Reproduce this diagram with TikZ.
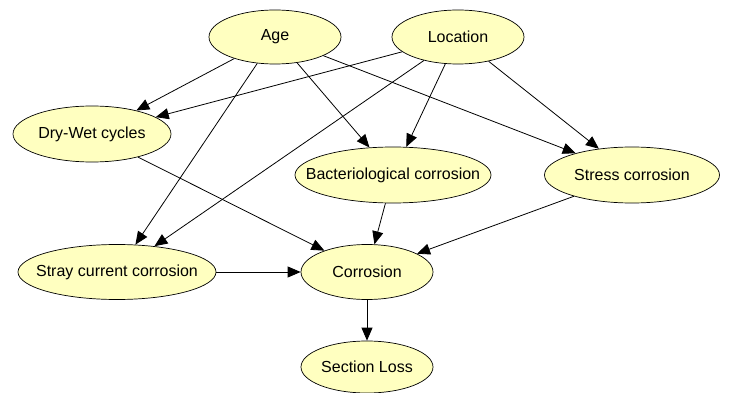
\documentclass[tikz,border=0pt]{standalone}
\usepackage{fontspec}
\setmainfont{Liberation Sans}
\usetikzlibrary{shapes.geometric,arrows.meta}
\definecolor{nodefill}{RGB}{255,255,192}
\newcommand{\nlab}[1]{\makebox[0pt]{#1}}
\tikzset{
  bnode/.style={ellipse, draw=black, line width=0.7pt, fill=nodefill, inner sep=0pt,
    font=\fontsize{16pt}{18pt}\selectfont},
  edge/.style={draw=black, line width=0.8pt, -{Triangle[length=13pt,width=11pt]}}
}
\begin{document}
\begin{tikzpicture}[x=1pt,y=-1pt]
\useasboundingbox (0,0) rectangle (731,393);
\node[bnode, minimum width=132pt, minimum height=54pt] (age) at (275,37) {\nlab{Age}};
\node[bnode, minimum width=132pt, minimum height=54pt] (loc) at (458,37) {\nlab{Location}};
\node[bnode, minimum width=158pt, minimum height=56pt] (dry) at (92,134) {\nlab{Dry-Wet cycles}};
\node[bnode, minimum width=196pt, minimum height=56pt] (bac) at (393,175) {\nlab{Bacteriological corrosion}};
\node[bnode, minimum width=175pt, minimum height=56pt] (str) at (632,175) {\nlab{Stress corrosion}};
\node[bnode, minimum width=198pt, minimum height=55pt] (stray) at (117,272) {\nlab{Stray current corrosion}};
\node[bnode, minimum width=132pt, minimum height=55pt] (cor) at (367,272) {\nlab{Corrosion}};
\node[bnode, minimum width=132pt, minimum height=52pt] (sec) at (367,367) {\nlab{Section Loss}};
\draw[edge] (age) -- (dry);
\draw[edge] (age) -- (stray);
\draw[edge] (age) -- (bac);
\draw[edge] (age) -- (str);
\draw[edge] (loc) -- (dry);
\draw[edge] (loc) -- (stray);
\draw[edge] (loc) -- (bac);
\draw[edge] (loc) -- (str);
\draw[edge] (dry) -- (cor);
\draw[edge] (bac) -- (cor);
\draw[edge] (str) -- (cor);
\draw[edge] (stray) -- (cor);
\draw[edge] (cor) -- (sec);
\end{tikzpicture}
\end{document}
